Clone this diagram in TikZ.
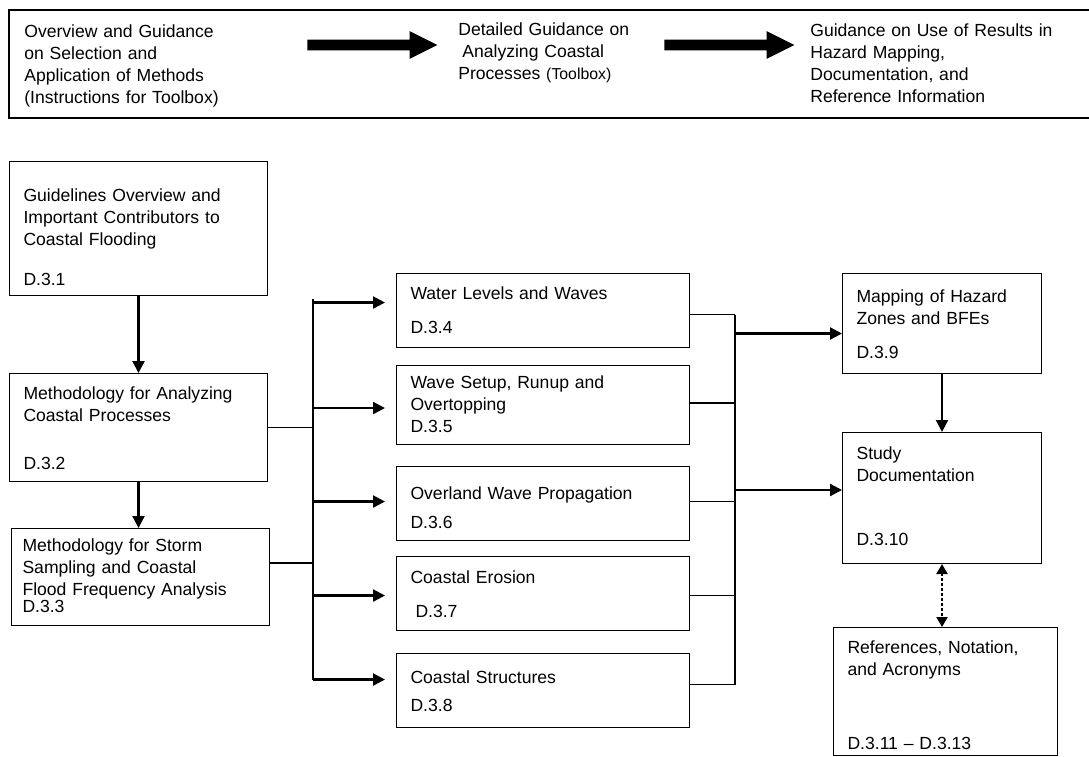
\documentclass[tikz,border=0pt]{standalone}
\usepackage{fontspec}
\setmainfont{Liberation Sans}
\usetikzlibrary{calc,arrows.meta,shapes.arrows}

\begin{document}
\begin{tikzpicture}[x=0.02cm,y=-0.02cm,
    box/.style={draw,line width=.6pt,anchor=north west,align=left,inner xsep=.28cm,inner ysep=0pt,font=\fontsize{10}{12.5}\selectfont},
    banner/.style={anchor=base west,align=left,inner sep=0pt,font=\fontsize{10}{12.5}\selectfont},
    fat/.style={single arrow,fill=black,draw=none,inner xsep=0pt,inner ysep=.1cm,minimum height=2.6cm,single arrow head extend=.17cm,single arrow tip angle=53},
    arr/.style={line width=1.3pt,-{Triangle[length=.24cm,width=.24cm]}},
    dotarr/.style={line width=1.3pt,dash pattern=on .06cm off .04cm,{Triangle[length=.2cm,width=.22cm]}-{Triangle[length=.2cm,width=.22cm]}},
    bus/.style={line width=.6pt}]

  \useasboundingbox (0,0) rectangle (1089,757);

  %%%% Banner across the top %%%%
  \draw[line width=.9pt] (1089,10) -- (9,10) -- (9,118) -- (1089,118);
  \node[banner,text width=5cm] (Step-1) at (24,38)
    {Overview and Guidance\\on Selection and\\Application of Methods\\(Instructions for Toolbox)};
  \node[banner,text width=4cm] (Step-2) at (458,36)
    {Detailed Guidance on\\\hspace*{.08cm}Analyzing Coastal\\Processes {\fontsize{9}{11}\selectfont(Toolbox)}};
  \node[banner,text width=5.2cm] (Step-3) at (810,37)
    {Guidance on Use of Results in\\Hazard Mapping,\\Documentation, and\\Reference Information};
  \node[fat] (Go-1) at (367,45) {};
  \node[fat] (Go-2) at (724,45) {};

  %%%% Left column %%%%
  \node[box,text width=4.6cm,text height=.8cm,text depth=1.88cm] (Sec-1) at (9,161)
    {Guidelines Overview and\\Important Contributors to\\Coastal Flooding\\[.36cm]D.3.1};
  \node[box,text width=4.6cm,text height=.52cm,text depth=1.64cm] (Sec-2) at (9,373)
    {Methodology for Analyzing\\Coastal Processes\\[.52cm]D.3.2};
  \node[box,inner xsep=.22cm,text width=4.72cm,text height=.46cm,text depth=1.48cm] (Sec-3) at (11,528)
    {Methodology for Storm\\Sampling and Coastal\\Flood Frequency Analysis\\[-.1cm]D.3.3};

  %%%% Middle column (toolbox) %%%%
  \node[box,text width=5.3cm,text height=.52cm,text depth=.96cm] (Sec-4) at (396,273)
    {Water Levels and Waves\\[.24cm]D.3.4};
  \node[box,text width=5.3cm,text height=.46cm,text depth=1.12cm] (Sec-5) at (396,365)
    {Wave Setup, Runup and\\Overtopping\\D.3.5};
  \node[box,text width=5.3cm,text height=.66cm,text depth=.82cm] (Sec-6) at (396,466)
    {Overland Wave Propagation\\[.14cm]D.3.6};
  \node[box,text width=5.3cm,text height=.54cm,text depth=.94cm] (Sec-7) at (396,556)
    {Coastal Erosion\\[.24cm]\hspace*{.1cm}D.3.7};
  \node[box,text width=5.3cm,text height=.6cm,text depth=.88cm] (Sec-8) at (396,653)
    {Coastal Structures\\[.12cm]D.3.8};

  %%%% Right column %%%%
  \node[box,text width=3.42cm,text height=.58cm,text depth=1.42cm] (Sec-9) at (842,273)
    {Mapping of Hazard\\Zones and BFEs\\[.24cm]D.3.9};
  \node[box,text width=3.42cm,text height=.54cm,text depth=2.08cm] (Sec-10) at (842,432)
    {Study\\Documentation\\[.84cm]D.3.10};
  \node[box,text width=3.92cm,text height=.52cm,text depth=2.04cm] (Sec-11) at (833,627)
    {References, Notation,\\and Acronyms\\[1.04cm]D.3.11 -- D.3.13};

  %% down the left column
  \draw[arr] (Sec-1.south) -- (Sec-2.north);
  \draw[arr] (Sec-2.south) -- (Sec-2.south |- Sec-3.north);

  %% left bus into the toolbox
  \coordinate (Bus-L) at (313,0);
  \coordinate (Out-3) at ($(Sec-3.north east)+(0,35)$);
  \draw[bus] (Sec-2.east) -- (Sec-2.east -| Bus-L);
  \draw[bus] (Out-3) -- (Out-3 -| Bus-L);
  \foreach \s/\dy in {4/-8,5/3,6/-2,7/2,8/-11}{
    \coordinate (In-\s) at ($(Sec-\s.west)+(0,\dy)$);
    \draw[arr,shorten >=.22cm] (In-\s -| Bus-L) -- (In-\s);
  }
  \draw[bus] ($(In-4 -| Bus-L)+(0,-4)$) -- (In-8 -| Bus-L);

  %% right bus out of the toolbox
  \coordinate (Bus-R) at (735,0);
  \foreach \s/\dy in {4/4,5/-2,6/-2,7/2,8/-6}{
    \coordinate (Out-\s) at ($(Sec-\s.east)+(0,\dy)$);
    \draw[bus] (Out-\s) -- (Out-\s -| Bus-R);
  }
  \draw[bus] (Out-4 -| Bus-R) -- (Out-8 -| Bus-R);
  \coordinate (In-9) at ($(Sec-9.west)+(0,10)$);
  \coordinate (In-10) at ($(Sec-10.west)+(0,-8)$);
  \draw[arr] (In-9 -| Bus-R) -- (In-9);
  \draw[arr] (In-10 -| Bus-R) -- (In-10);

  %% down the right column
  \draw[arr] (Sec-9.south) -- (Sec-10.north);
  \draw[dotarr] (Sec-10.south) -- (Sec-10.south |- Sec-11.north);

\end{tikzpicture}
\end{document}
